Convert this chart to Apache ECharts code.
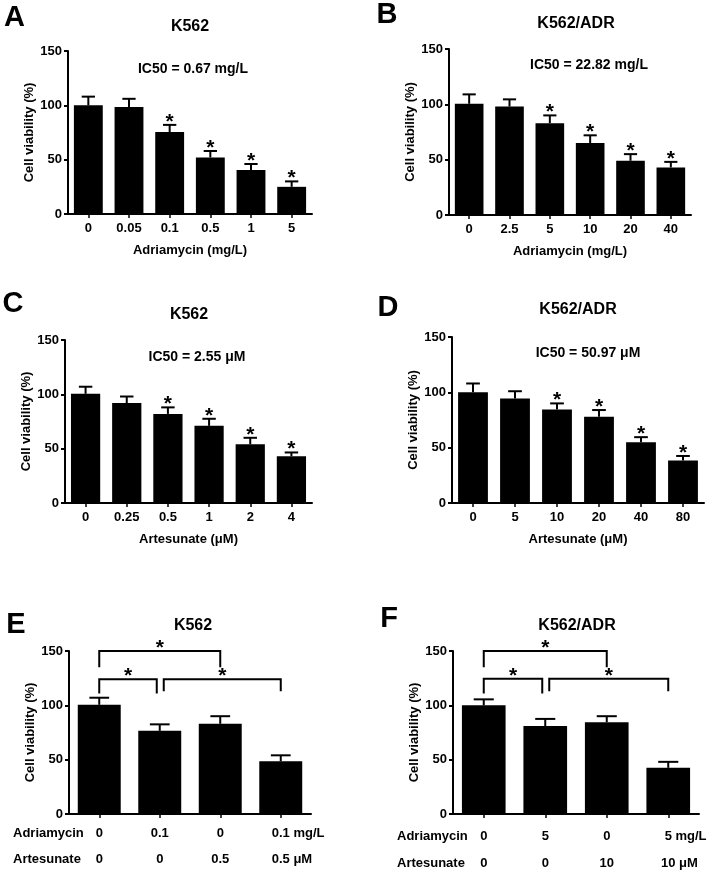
<!DOCTYPE html>
<html><head><meta charset="utf-8">
<script src="https://cdn.jsdelivr.net/npm/echarts@6/dist/echarts.min.js"></script>
<style>html,body{margin:0;padding:0;background:#fff}#c{width:710px;height:873px}</style>
</head><body><div id="c"></div><script>
const FONT = "'Liberation Sans', Arial, sans-serif";

// ---------- data ----------
const catsA = ['0', '0.05', '0.1', '0.5', '1', '5'];
const meanA = [100, 98.5, 75.5, 52, 40.5, 25];
const errA  = [8, 7.5, 6.5, 6, 5.5, 5];
const sigA  = [0, 0, 1, 1, 1, 1];

const catsB = ['0', '2.5', '5', '10', '20', '40'];
const meanB = [100.5, 98, 83, 65, 49, 43];
const errB  = [8.5, 6.5, 7, 7, 6, 5];
const sigB  = [0, 0, 1, 1, 1, 1];

const catsC = ['0', '0.25', '0.5', '1', '2', '4'];
const meanC = [100.5, 92, 82, 71, 54, 43];
const errC  = [6.5, 6, 6, 6.5, 6, 3.5];
const sigC  = [0, 0, 1, 1, 1, 1];

const catsD = ['0', '5', '10', '20', '40', '80'];
const meanD = [100, 94.5, 84.5, 78, 55, 38.5];
const errD  = [8, 6.5, 5.5, 6, 4.5, 4];
const sigD  = [0, 0, 1, 1, 1, 1];

const catsE = ['g1', 'g2', 'g3', 'g4'];
const meanE = [100.5, 76.5, 83, 48.5];
const errE  = [6.5, 6, 7, 5.5];
const sigE  = [0, 0, 0, 0];
const adrE  = ['0', '0.1', '0', '0.1'];
const artE  = ['0', '0', '0.5', '0.5'];
const brFromE = [0, 0, 1];
const brToE   = [2, 1, 3];
const brTopE  = [150, 124, 124];
const brEndE  = [135, 111, 113];

const catsF = ['g1', 'g2', 'g3', 'g4'];
const meanF = [100, 81, 84.5, 42.5];
const errF  = [5.5, 6.5, 5.5, 5.5];
const sigF  = [0, 0, 0, 0];
const adrF  = ['0', '5', '0', '5'];
const artF  = ['0', '0', '10', '10'];
const brFromF = [0, 0, 1];
const brToF   = [2, 1, 3];
const brTopF  = [150, 124.5, 124.5];
const brEndF  = [135, 111, 113];

const yTicks = [0, 50, 100, 150];

// ---------- layout ----------
const BARFRAC = 0.71;
const mctx = document.createElement('canvas').getContext('2d');
function tw(s, size) { mctx.font = 'bold ' + size + 'px ' + FONT; return mctx.measureText(s).width; }

const panels = [
  { grid: {left: 68, top: 51, width: 244, height: 163}, cats: catsA, mean: meanA, err: errA, sig: sigA, xname: 'Adriamycin (mg/L)' },
  { grid: {left: 449, top: 49, width: 242, height: 166}, cats: catsB, mean: meanB, err: errB, sig: sigB, xname: 'Adriamycin (mg/L)' },
  { grid: {left: 65, top: 340, width: 247, height: 163}, cats: catsC, mean: meanC, err: errC, sig: sigC, xname: 'Artesunate (\u03bcM)' },
  { grid: {left: 452, top: 337, width: 252, height: 166}, cats: catsD, mean: meanD, err: errD, sig: sigD, xname: 'Artesunate (\u03bcM)' },
  { grid: {left: 69, top: 651, width: 242, height: 163}, cats: catsE, mean: meanE, err: errE, sig: sigE, xname: '',
    table: { rows: [ {vals: adrE, unit: 'mg/L'}, {vals: artE, unit: '\u03bcM'} ], rowY: [833, 859] },
    br: { from: brFromE, to: brToE, top: brTopE, end: brEndE } },
  { grid: {left: 453, top: 651, width: 246, height: 163}, cats: catsF, mean: meanF, err: errF, sig: sigF, xname: '',
    table: { rows: [ {vals: adrF, unit: 'mg/L'}, {vals: artF, unit: '\u03bcM'} ], rowY: [836, 863] },
    br: { from: brFromF, to: brToF, top: brTopF, end: brEndF } }
];

const txt = (size) => ({ color: '#000', fontWeight: 'bold', fontSize: size, fontFamily: FONT });

const option = {
  animation: false,
  backgroundColor: '#fff',
  grid: panels.map(p => Object.assign({containLabel: false}, p.grid)),
  xAxis: panels.map((p, k) => ({
    type: 'category', gridIndex: k, data: p.cats,
    axisLine: { show: true, lineStyle: { color: '#000', width: 2 } },
    axisTick: { show: true, alignWithLabel: true, length: 4, lineStyle: { color: '#000', width: 1.5 } },
    axisLabel: Object.assign({ show: !p.table, margin: 8, interval: 0 }, txt(13)),
    splitLine: { show: false },
    name: p.xname, nameLocation: 'middle', nameGap: 30, nameTextStyle: txt(13)
  })),
  yAxis: panels.map((p, k) => ({
    type: 'value', gridIndex: k, min: 0, max: 150, interval: 50,
    axisLine: { show: true, lineStyle: { color: '#000', width: 2 } },
    axisTick: { show: true, length: 4, lineStyle: { color: '#000', width: 2 } },
    axisLabel: Object.assign({ margin: 6, formatter: v => yTicks.indexOf(v) >= 0 ? String(v) : '' }, txt(13)),
    splitLine: { show: false },
    name: 'Cell viability (%)', nameLocation: 'middle', nameGap: 30, nameTextStyle: txt(13)
  })),
  series: [],
  graphic: []
};

panels.forEach((p, k) => {
  option.series.push({
    type: 'bar', xAxisIndex: k, yAxisIndex: k, data: p.mean, barWidth: (BARFRAC * 100) + '%',
    itemStyle: { color: '#000' }, silent: true
  });
  option.series.push({
    type: 'custom', xAxisIndex: k, yAxisIndex: k, clip: false, silent: true,
    data: p.mean.map((m, i) => [i, m, p.err[i], p.sig[i]]),
    renderItem: (params, api) => {
      const i = api.value(0), m = api.value(1), e = api.value(2), s = api.value(3);
      const b = api.coord([i, m]), t = api.coord([i, m + e]);
      const bw = api.size([1, 0])[0] * BARFRAC;
      const cw = bw * 0.46;
      const ch = [
        { type: 'line', shape: { x1: b[0], y1: b[1], x2: t[0], y2: t[1] }, style: { stroke: '#000', lineWidth: 2 } },
        { type: 'line', shape: { x1: t[0] - cw / 2, y1: t[1], x2: t[0] + cw / 2, y2: t[1] }, style: { stroke: '#000', lineWidth: 2 } }
      ];
      if (s) ch.push({ type: 'text', style: { x: t[0], y: t[1] - 3, text: '*', font: 'bold 21px ' + FONT, fill: '#000', align: 'center', verticalAlign: 'middle' } });
      return { type: 'group', children: ch };
    }
  });
  if (p.br) {
    const br = p.br;
    option.series.push({
      type: 'custom', xAxisIndex: k, yAxisIndex: k, clip: false, silent: true,
      data: br.from.map((f, j) => [f, br.to[j], br.top[j], br.end[j], j]),
      renderItem: (params, api) => {
        const f = api.value(0), t = api.value(1), top = api.value(2), end = api.value(3), j = api.value(4);
        let xl = api.coord([f, top])[0], xr = api.coord([t, top])[0];
        const y = api.coord([f, top])[1], ye = api.coord([f, end])[1];
        br.from.forEach((ff, q) => {
          if (q === j || br.top[q] !== top) return;
          if (br.to[q] === f) xl += 4;
          if (ff === t) xr -= 3;
        });
        return { type: 'group', children: [
          { type: 'polyline', shape: { points: [[xl, ye], [xl, y], [xr, y], [xr, ye]] }, style: { stroke: '#000', lineWidth: 2, fill: null } },
          { type: 'text', style: { x: (xl + xr) / 2, y: y - 3, text: '*', font: 'bold 21px ' + FONT, fill: '#000', align: 'center', verticalAlign: 'middle' } }
        ] };
      }
    });
  }
  if (p.table) {
    const tb = p.table;
    const n = p.cats.length;
    option.series.push({
      type: 'custom', xAxisIndex: k, yAxisIndex: k, clip: false, silent: true,
      data: p.cats.map((c, i) => [i, 0]),
      renderItem: (params, api) => {
        const i = api.value(0);
        const x = api.coord([i, 0])[0];
        const ch = [];
        tb.rows.forEach((row, r) => {
          const v = row.vals[i], y = tb.rowY[r];
          ch.push({ type: 'text', style: { x: x, y: y, text: v, font: 'bold 13px ' + FONT, fill: '#000', align: 'center', verticalAlign: 'middle' } });
          if (i === n - 1) {
            ch.push({ type: 'text', style: { x: x + tw(v, 13) / 2 + tw(' ', 13), y: y, text: row.unit, font: 'bold 13px ' + FONT, fill: '#000', align: 'left', verticalAlign: 'middle' } });
          }
        });
        return { type: 'group', children: ch };
      }
    });
  }
});

function gtext(x, y, text, size, align) {
  return { type: 'text', x: x, y: y, silent: true,
    style: { text: text, font: 'bold ' + size + 'px ' + FONT, fill: '#000', align: align || 'center', verticalAlign: 'middle' } };
}
option.graphic = [
  gtext(14.5, 18, 'A', 29), gtext(387, 15, 'B', 29), gtext(13, 304, 'C', 29),
  gtext(388, 308, 'D', 29), gtext(16, 625, 'E', 29), gtext(389, 619, 'F', 29),
  gtext(190, 27, 'K562', 16), gtext(576, 24, 'K562/ADR', 16), gtext(189, 315, 'K562', 16),
  gtext(578, 310, 'K562/ADR', 16), gtext(193, 626, 'K562', 16), gtext(577, 626, 'K562/ADR', 16),
  gtext(193, 69, 'IC50 = 0.67 mg/L', 14), gtext(589, 65, 'IC50 = 22.82 mg/L', 14),
  gtext(197, 357, 'IC50 = 2.55 \u03bcM', 14), gtext(588, 353, 'IC50 = 50.97 \u03bcM', 14),
  gtext(13, 833, 'Adriamycin', 13, 'left'), gtext(13, 859, 'Artesunate', 13, 'left'),
  gtext(397, 836, 'Adriamycin', 13, 'left'), gtext(397, 863, 'Artesunate', 13, 'left')
];

const chart = echarts.init(document.getElementById('c'), null, { renderer: 'canvas' });
chart.setOption(option);
</script></body></html>
